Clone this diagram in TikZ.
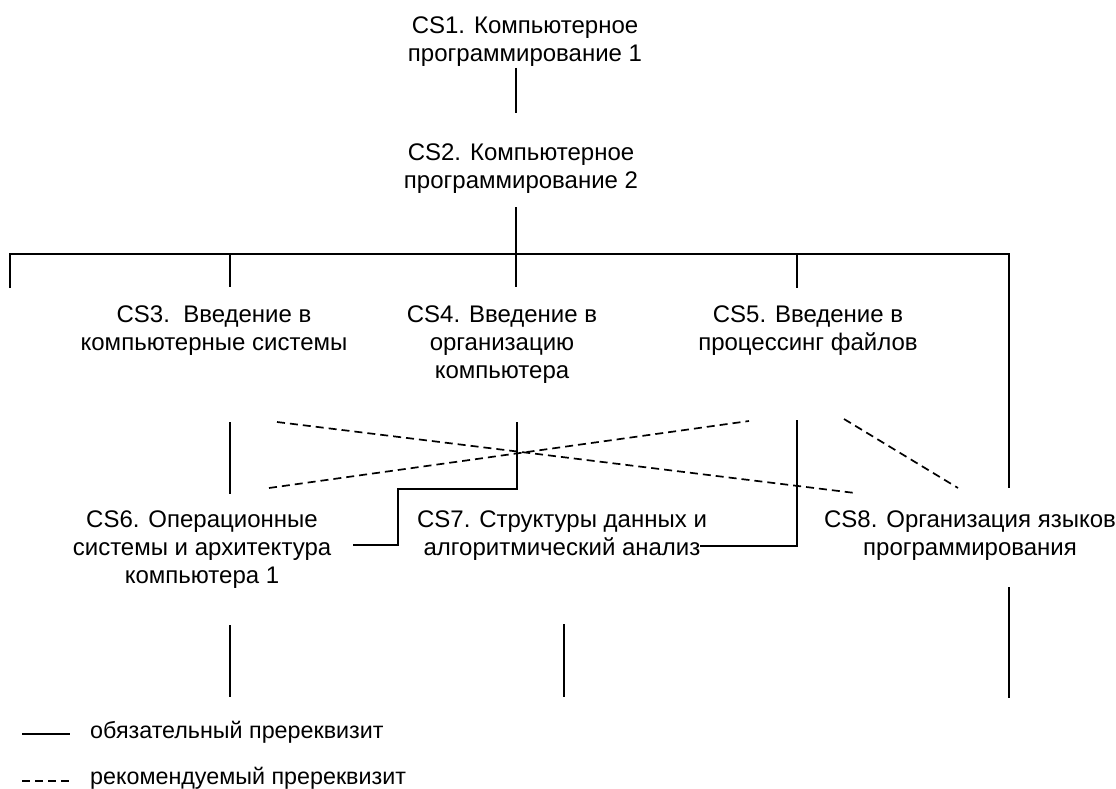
\documentclass[tikz,border=0pt]{standalone}
\usepackage{fontspec}
\setmainfont{Liberation Sans}
\begin{document}
\begin{tikzpicture}[x=1pt,y=-1pt,
  lbl/.style={font=\fontsize{24}{28}\selectfont, align=center, anchor=base, inner sep=0pt},
  leg/.style={font=\fontsize{23.3}{27}\selectfont, anchor=base west, inner sep=0pt},
  req/.style={line width=1.7pt},
  rec/.style={line width=1.7pt, dash pattern=on 8pt off 5pt}]
\useasboundingbox (0,0) rectangle (1116,789);
% course labels (anchor = baseline of the last line)
\node[lbl] (cs1) at (525,62) {CS1. Компьютерное\\программирование 1};
\node[lbl] (cs2) at (521,188) {CS2. Компьютерное\\программирование 2};
\node[lbl] (cs3) at (214,350) {CS3.\ \ Введение в\\компьютерные системы};
\node[lbl] (cs4) at (502,378) {CS4. Введение в\\организацию\\компьютера};
\node[lbl] (cs5) at (808,350) {CS5. Введение в\\процессинг файлов};
\node[lbl] (cs6) at (202,583) {CS6. Операционные\\системы и архитектура\\компьютера 1};
\node[lbl] (cs7) at (562,555) {CS7. Структуры данных и\\алгоритмический анализ};
\node[lbl] (cs8) at (970,555) {CS8. Организация языков\\программирования};
% connector end points
\coordinate (c1a) at (516,68);   \coordinate (c1b) at (516,113);
\coordinate (c2a) at (516,207);  \coordinate (bus) at (516,254);
\coordinate (busL) at (10,254);  \coordinate (busR) at (1009,254);
\coordinate (dL) at (10,288);
\coordinate (b3) at (230,254);   \coordinate (d3) at (230,287);
\coordinate (d4) at (516,287);
\coordinate (b5) at (797,254);   \coordinate (d5) at (797,288);
\coordinate (r8) at (1009,488);
\coordinate (u3) at (230,422);   \coordinate (v3) at (230,494);
\coordinate (u4) at (517,422);   \coordinate (s4a) at (517,489);
\coordinate (s4b) at (398,489);  \coordinate (s4c) at (398,545);
\coordinate (e4) at (353,545);
\coordinate (u5) at (797,420);   \coordinate (s5a) at (797,546);
\coordinate (e5) at (700,546);
\coordinate (da1) at (277,422);  \coordinate (da2) at (855,493);
\coordinate (db1) at (269,488);  \coordinate (db2) at (749,421);
\coordinate (dc1) at (844,419);  \coordinate (dc2) at (958,488);
\coordinate (t6) at (230,625);   \coordinate (w6) at (230,697);
\coordinate (t7) at (564,624);   \coordinate (w7) at (564,697);
\coordinate (t8) at (1009,587);  \coordinate (w8) at (1009,698);
% required prerequisites
\draw[req] (c1a) -- (c1b);
\draw[req] (c2a) -- (bus);
\draw[req] (dL) -- (busL) -- (busR) -- (r8);
\draw[req] (b3) -- (d3);
\draw[req] (bus) -- (d4);
\draw[req] (b5) -- (d5);
\draw[req] (u3) -- (v3);
\draw[req] (u4) -- (s4a) -- (s4b) -- (s4c) -- (e4);
\draw[req] (u5) -- (s5a) -- (e5);
\draw[req] (t6) -- (w6);
\draw[req] (t7) -- (w7);
\draw[req] (t8) -- (w8);
% recommended prerequisites
\draw[rec] (da1) -- (da2);
\draw[rec] (db1) -- (db2);
\draw[rec] (dc1) -- (dc2);
% legend
\coordinate (l1a) at (22,734); \coordinate (l1b) at (70,734);
\coordinate (l2a) at (22,781); \coordinate (l2b) at (70,781);
\draw[req] (l1a) -- (l1b);
\draw[rec] (l2a) -- (l2b);
\node[leg] (leg1) at (90,738) {обязательный пререквизит};
\node[leg] (leg2) at (90,784) {рекомендуемый пререквизит};
\end{tikzpicture}
\end{document}
